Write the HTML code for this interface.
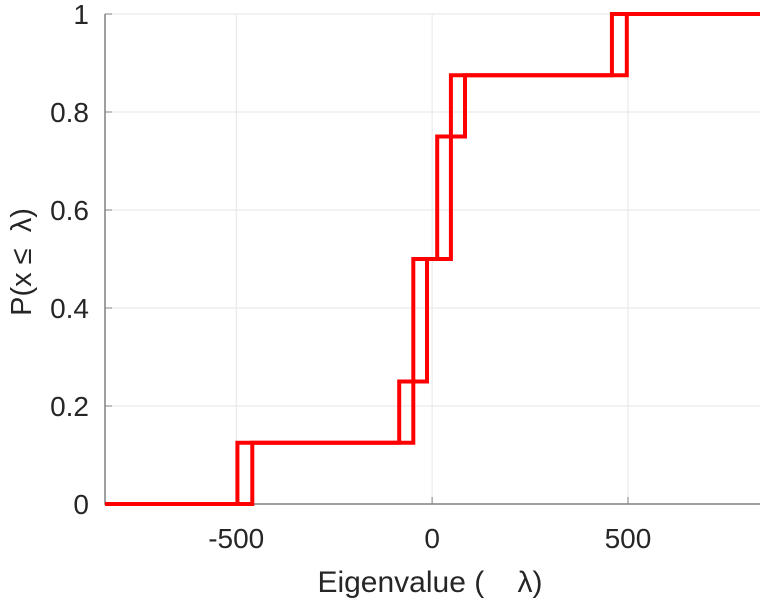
<!DOCTYPE html>
<html><head><meta charset="utf-8"><style>
body{margin:0;background:#fff;width:763px;height:600px;overflow:hidden}
text{font-family:"Liberation Sans",sans-serif;fill:#262626}
</style></head><body>
<svg id="chart" width="763" height="600" viewBox="0 0 763 600"></svg>
<script>
const xTicks=[-500,0,500];
const yTicks=[0,0.2,0.4,0.6,0.8,1];
const seriesA=[-497,-84,-48,13,48,459];
const seriesB=[-459,-48,-13,48,84,497];
const levels=[0.125,0.25,0.5,0.75,0.875,1];
const xMin=-835,xMax=837;
const L=105,R=760,T=14,B=504;
const sx=v=>L+(v-xMin)/(xMax-xMin)*(R-L);
const sy=v=>B-v*(B-T);
const svg=document.getElementById('chart');
const NS='http://www.w3.org/2000/svg';
function mk(t,a){const e=document.createElementNS(NS,t);for(const k in a)e.setAttribute(k,a[k]);svg.appendChild(e);return e;}
xTicks.forEach(v=>{const g=mk('line',{x1:sx(v),x2:sx(v),y1:T,y2:B,stroke:'#e6e6e6','stroke-width':1});

const tk=mk('line',{x1:sx(v),x2:sx(v),y1:B,y2:B-7,stroke:'#808080','stroke-width':1});

const t=mk('text',{x:sx(v),y:B+44,'text-anchor':'middle','font-size':28});t.textContent=v;
});
yTicks.forEach(v=>{const g=mk('line',{x1:L,x2:R,y1:sy(v),y2:sy(v),stroke:'#e6e6e6','stroke-width':1});

const tk=mk('line',{x1:L,x2:L+7,y1:sy(v),y2:sy(v),stroke:'#808080','stroke-width':1});

const t=mk('text',{x:L-16,y:sy(v)+10,'text-anchor':'end','font-size':28});t.textContent=v;
});
const ax=mk('path',{d:`M${L},${T}V${B}H${R}`,fill:'none',stroke:'#808080','stroke-width':1.5});

function step(arr,name){let d=`M${sx(xMin)},${sy(0)}`;
arr.forEach((v,i)=>{d+=`H${sx(v)}V${sy(levels[i])}`;});d+=`H${sx(xMax)}`;
const p=mk('path',{d:d,fill:'none',stroke:'#ff0000','stroke-width':4});
}
step(seriesA,'cdf-line-a');step(seriesB,'cdf-line-b');
const xl=mk('text',{x:430,y:592,'text-anchor':'middle','font-size':30,style:'white-space:pre'});xl.textContent='Eigenvalue (    λ)';

const yl=mk('text',{x:0,y:0,'text-anchor':'middle','font-size':29,style:'white-space:pre',transform:'translate(31,262) rotate(-90)'});yl.textContent='P(x ≤  λ)';

</script>
</body></html>
